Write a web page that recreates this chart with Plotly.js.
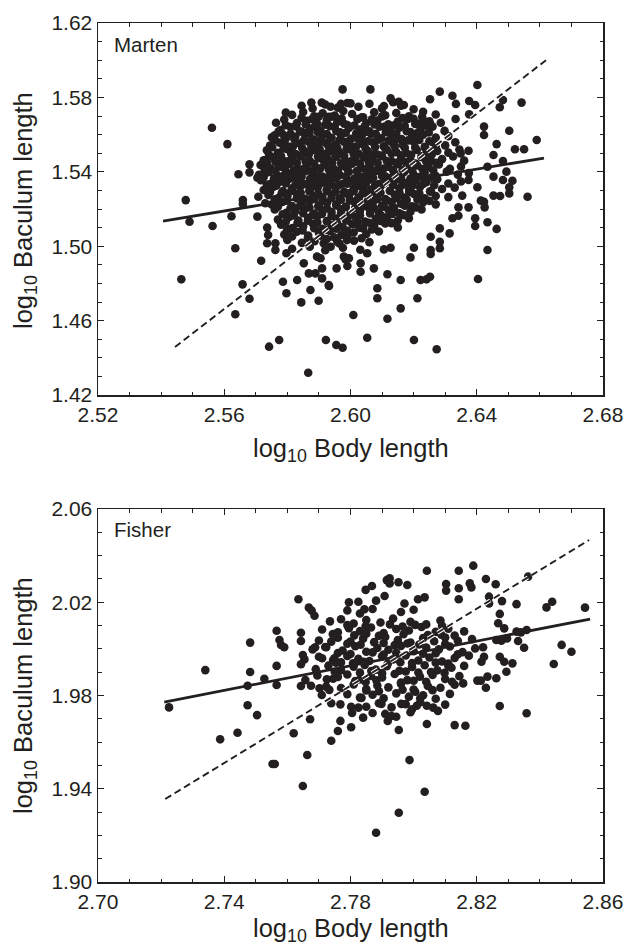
<!DOCTYPE html>
<html>
<head>
<meta charset="utf-8">
<script src="https://cdn.plot.ly/plotly-3.0.1.min.js"></script>
<style>html,body{margin:0;padding:0;background:#fff;}#chart{width:625px;height:947px;}</style>
</head>
<body>
<div id="chart"></div>
<script>
// ---------- Marten (top panel) ----------
const martenOutX = [2.5561,2.5610,2.5478,2.5490,2.5563,2.5623,2.5464,2.5635,2.5635,2.5658,2.5680,2.5717,2.5645,2.5680,2.5680,2.5705,2.5659,2.5659,2.5705,2.5742,2.5774,2.5866,2.5922,2.5955,2.5975,2.6009,2.5795,2.5764,2.5876,2.5909,2.5975,2.5786,2.5797,2.5844,2.5899,2.5831,2.5873,2.5932,2.5910,2.5956,2.5905,
2.5736,2.5736,2.5762,2.5762,2.5799,2.5799,2.5797,2.5739,2.5708,2.5730,2.5730,2.5762,2.5772,2.5751,2.5772,2.5788,2.5862,2.5889,2.5937,2.5970,2.6000,2.5899,2.5931,
2.5852,2.5868,2.5889,2.5910,2.5931,2.5894,2.5915,2.5937,2.5958,2.5989,2.5979,2.5995,2.6032,
2.6402,2.6283,2.6063,2.6323,2.6252,2.6334,2.6376,2.6395,2.6483,2.6542,2.6473,2.6376,2.6333,2.6286,2.6252,2.6503,2.6590,2.6423,2.6423,2.6463,2.6521,2.6550,2.6453,2.6483,2.6434,2.6374,2.6349,2.6453,2.6494,2.6483,2.6513,2.6503,2.6503,2.6561,2.6474,2.6453,2.6423,2.6413,2.6425,2.6402,2.6374,2.6354,2.6374,2.6342,2.6342,2.6395,2.6395,2.6434,2.6463,2.6434,2.6404,2.6323,2.6314,2.6283,2.6283,2.6283,2.6254,2.6254,2.6254,2.6190,2.6201,2.6212,2.6222,2.6241,2.6252,2.6159,2.6159,2.6201,2.6273,2.6117,2.6053,2.6085,2.6085,2.6117,2.6106,2.6127,2.6074,2.6032,2.6053,2.5990,2.5984,
2.6106,2.6127,2.6153,2.6169,2.6227,2.6238];
const martenOutY = [1.5637,1.5549,1.5248,1.5132,1.5109,1.5161,1.4822,1.4989,1.4634,1.4795,1.4718,1.4922,1.5387,1.5440,1.5397,1.5368,1.5248,1.5227,1.5159,1.4460,1.4496,1.4320,1.4496,1.4469,1.4454,1.4630,1.5718,1.5664,1.5772,1.5772,1.5843,1.4809,1.4747,1.4698,1.4707,1.4818,1.4765,1.4786,1.4881,1.4881,1.4935,
1.5100,1.5016,1.5016,1.4980,1.5087,1.5042,1.4962,1.5060,1.5266,1.5231,1.5463,1.5454,1.5436,1.5585,1.5616,1.5598,1.5610,1.5571,1.5750,1.5765,1.5768,1.5696,1.5696,
1.4908,1.4854,1.4854,1.4827,1.4791,1.4944,1.5016,1.4997,1.5024,1.5033,1.4944,1.4935,1.4908,
1.5867,1.5831,1.5843,1.5809,1.5790,1.5765,1.5781,1.5759,1.5786,1.5772,1.5747,1.5709,1.5684,1.5664,1.5657,1.5621,1.5571,1.5643,1.5598,1.5549,1.5521,1.5521,1.5490,1.5458,1.5427,1.5513,1.5499,1.5374,1.5401,1.5356,1.5352,1.5317,1.5284,1.5266,1.5270,1.5272,1.5239,1.5245,1.5209,1.5317,1.5356,1.5272,1.5209,1.5209,1.5164,1.5150,1.5109,1.5129,1.5093,1.4980,1.4824,1.5150,1.5069,1.5096,1.5024,1.4989,1.5051,1.4980,1.4958,1.4940,1.4992,1.4720,1.4818,1.4822,1.4836,1.4818,1.4666,1.4496,1.4446,1.4610,1.4508,1.4774,1.4720,1.4849,1.4983,1.4992,1.4881,1.4863,1.4962,1.4894,1.4930,
1.5754,1.5795,1.5777,1.5759,1.5696,1.5669];

const martenCoreX = [
2.5845,2.5880,2.5920,2.5960,2.5990,2.6025,2.6060,2.6100,2.6135,2.6160,2.6200,
2.5815,2.5850,2.5885,2.5912,2.5950,2.5977,2.6005,2.6040,2.6075,2.6110,2.6145,2.6185,2.6230,2.6270,
2.5790,2.5830,2.5862,2.5895,2.5925,2.5958,2.5990,2.6022,2.6050,2.6085,2.6120,2.6150,2.6182,2.6215,2.6250,
2.5778,2.5810,2.5845,2.5872,2.5905,2.5935,2.5967,2.5995,2.6030,2.6060,2.6092,2.6125,2.6155,2.6190,2.6222,2.6260,2.6298,
2.5760,2.5795,2.5825,2.5855,2.5882,2.5910,2.5940,2.5970,2.6002,2.6035,2.6065,2.6097,2.6130,2.6162,2.6195,2.6230,2.6270,2.6310,
2.5745,2.5775,2.5805,2.5840,2.5866,2.5895,2.5922,2.5950,2.5980,2.6010,2.6040,2.6072,2.6105,2.6135,2.6165,2.6200,2.6235,2.6265,2.6300,2.6332,
2.5735,2.5770,2.5800,2.5826,2.5855,2.5885,2.5912,2.5940,2.5966,2.5995,2.6025,2.6055,2.6085,2.6115,2.6145,2.6177,2.6210,2.6242,2.6275,2.6310,2.6345,
2.5725,2.5756,2.5790,2.5815,2.5845,2.5871,2.5900,2.5930,2.5956,2.5985,2.6015,2.6045,2.6071,2.6100,2.6130,2.6160,2.6190,2.6225,2.6256,2.6290,2.6325,2.6360,
2.5715,2.5746,2.5780,2.5806,2.5835,2.5861,2.5890,2.5920,2.5946,2.5975,2.6005,2.6035,2.6061,2.6090,2.6120,2.6150,2.6181,2.6212,2.6245,2.6280,2.6315,2.6350,
2.5710,2.5740,2.5770,2.5800,2.5830,2.5856,2.5885,2.5911,2.5940,2.5966,2.5995,2.6025,2.6055,2.6081,2.6110,2.6140,2.6170,2.6201,2.6235,2.6270,2.6305,2.6340,2.6375,
2.5716,2.5750,2.5776,2.5805,2.5835,2.5861,2.5890,2.5916,2.5945,2.5975,2.6001,2.6030,2.6060,2.6090,2.6116,2.6145,2.6175,2.6206,2.6240,2.6275,2.6310,2.6350,
2.5725,2.5755,2.5786,2.5815,2.5841,2.5870,2.5896,2.5925,2.5951,2.5980,2.6010,2.6040,2.6066,2.6095,2.6125,2.6155,2.6186,2.6220,2.6255,2.6290,2.6330,
2.5740,2.5771,2.5800,2.5830,2.5856,2.5885,2.5911,2.5940,2.5966,2.5995,2.6025,2.6051,2.6080,2.6110,2.6140,2.6170,2.6201,2.6235,2.6270,2.6310,
2.5750,2.5785,2.5815,2.5845,2.5871,2.5900,2.5926,2.5955,2.5985,2.6011,2.6040,2.6070,2.6100,2.6130,2.6160,2.6195,2.6230,2.6270,
2.5760,2.5796,2.5825,2.5856,2.5885,2.5911,2.5940,2.5970,2.6000,2.6030,2.6060,2.6090,2.6121,2.6155,2.6190,2.6225,
2.5770,2.5806,2.5835,2.5866,2.5895,2.5926,2.5955,2.5986,2.6015,2.6046,2.6080,2.6115,2.6150,2.6185,
2.5780,2.5816,2.5850,2.5881,2.5910,2.5941,2.5975,2.6006,2.6040,2.6075,2.6110,2.6150,
2.5790,2.5830,2.5866,2.5900,2.5935,2.5971,2.6010,2.6050,2.6090,
2.5800,2.5846,2.5886,2.5925,2.5965,2.6011,2.6060,
2.5815,2.5871,2.5920,2.5976,2.6031];
const martenCoreY = [
1.5755,1.5740,1.5762,1.5745,1.5770,1.5750,1.5766,1.5741,1.5774,1.5756,1.5736,
1.5706,1.5722,1.5698,1.5715,1.5702,1.5727,1.5711,1.5693,1.5720,1.5704,1.5716,1.5699,1.5723,1.5708,
1.5681,1.5662,1.5674,1.5657,1.5679,1.5668,1.5652,1.5683,1.5661,1.5676,1.5655,1.5670,1.5684,1.5659,1.5672,
1.5624,1.5641,1.5617,1.5633,1.5622,1.5645,1.5613,1.5636,1.5627,1.5618,1.5642,1.5625,1.5637,1.5614,1.5631,1.5643,1.5620,
1.5596,1.5579,1.5588,1.5602,1.5574,1.5593,1.5583,1.5598,1.5577,1.5591,1.5604,1.5581,1.5595,1.5576,1.5589,1.5600,1.5584,1.5592,
1.5541,1.5557,1.5536,1.5552,1.5563,1.5539,1.5555,1.5544,1.5561,1.5533,1.5549,1.5558,1.5537,1.5553,1.5546,1.5562,1.5534,1.5551,1.5542,1.5559,
1.5516,1.5502,1.5521,1.5495,1.5509,1.5518,1.5497,1.5513,1.5504,1.5522,1.5498,1.5511,1.5493,1.5519,1.5506,1.5500,1.5517,1.5496,1.5512,1.5503,1.5520,
1.5462,1.5478,1.5457,1.5471,1.5483,1.5459,1.5474,1.5466,1.5481,1.5455,1.5469,1.5477,1.5461,1.5484,1.5458,1.5472,1.5463,1.5479,1.5456,1.5468,1.5482,1.5460,
1.5437,1.5419,1.5428,1.5442,1.5414,1.5433,1.5422,1.5440,1.5417,1.5431,1.5444,1.5420,1.5436,1.5413,1.5427,1.5441,1.5418,1.5434,1.5425,1.5439,1.5416,1.5429,
1.5384,1.5398,1.5377,1.5392,1.5381,1.5403,1.5386,1.5374,1.5396,1.5383,1.5400,1.5379,1.5391,1.5404,1.5376,1.5388,1.5399,1.5382,1.5394,1.5378,1.5401,1.5385,1.5393,
1.5355,1.5338,1.5347,1.5361,1.5342,1.5333,1.5357,1.5345,1.5363,1.5336,1.5351,1.5340,1.5358,1.5334,1.5349,1.5362,1.5339,1.5353,1.5344,1.5360,1.5337,1.5348,
1.5302,1.5318,1.5296,1.5311,1.5323,1.5299,1.5314,1.5305,1.5320,1.5293,1.5309,1.5317,1.5301,1.5322,1.5297,1.5312,1.5306,1.5319,1.5294,1.5308,1.5315,
1.5276,1.5259,1.5268,1.5282,1.5255,1.5271,1.5263,1.5279,1.5257,1.5273,1.5261,1.5284,1.5266,1.5253,1.5277,1.5262,1.5281,1.5258,1.5270,1.5264,
1.5224,1.5238,1.5216,1.5231,1.5243,1.5219,1.5235,1.5226,1.5213,1.5240,1.5222,1.5233,1.5217,1.5237,1.5228,1.5214,1.5236,1.5225,
1.5197,1.5179,1.5188,1.5203,1.5176,1.5193,1.5184,1.5199,1.5173,1.5190,1.5201,1.5181,1.5195,1.5177,1.5186,1.5198,
1.5143,1.5157,1.5138,1.5152,1.5161,1.5135,1.5149,1.5140,1.5158,1.5133,1.5147,1.5155,1.5139,1.5151,
1.5116,1.5098,1.5107,1.5121,1.5094,1.5112,1.5103,1.5118,1.5096,1.5109,1.5122,1.5101,
1.5063,1.5078,1.5057,1.5071,1.5082,1.5060,1.5074,1.5066,1.5079,
1.5034,1.5018,1.5027,1.5039,1.5015,1.5030,1.5022,
1.4986,1.4997,1.4978,1.4992,1.4981];

// denser centre of the marten cloud (points between the rows above)
const martenFillX = [
2.5845,2.5878,2.5940,2.5972,2.6036,2.6068,2.6100,2.6165,2.6200,
2.5795,2.5828,2.5858,2.5888,2.5920,2.5950,2.5980,2.6012,2.6045,2.6076,2.6108,2.6140,2.6172,2.6205,2.6240,
2.5778,2.5810,2.5840,2.5870,2.5896,2.5925,2.5955,2.5985,2.6018,2.6050,2.6080,2.6112,2.6145,2.6178,2.6212,2.6248,
2.5760,2.5790,2.5822,2.5852,2.5880,2.5908,2.5936,2.5965,2.5995,2.6025,2.6055,2.6088,2.6120,2.6150,2.6183,2.6218,2.6250,
2.5752,2.5788,2.5818,2.5847,2.5876,2.5902,2.5930,2.5958,2.5988,2.6018,2.6048,2.6078,2.6110,2.6140,2.6172,2.6205,2.6238,2.6270,
2.5742,2.5780,2.5812,2.5840,2.5868,2.5897,2.5925,2.5952,2.5980,2.6010,2.6040,2.6068,2.6098,2.6130,2.6160,2.6192,2.6225,2.6258,
2.5735,2.5770,2.5802,2.5830,2.5858,2.5885,2.5915,2.5942,2.5970,2.6000,2.6030,2.6058,2.6086,2.6115,2.6145,2.6175,2.6206,2.6240,2.6272,
2.5728,2.5762,2.5792,2.5820,2.5848,2.5875,2.5905,2.5932,2.5960,2.5990,2.6020,2.6048,2.6075,2.6105,2.6135,2.6165,2.6196,2.6228,2.6262,
2.5725,2.5758,2.5786,2.5815,2.5845,2.5872,2.5900,2.5928,2.5955,2.5985,2.6012,2.6042,2.6072,2.6100,2.6130,2.6160,2.6190,2.6222,2.6255,
2.5735,2.5765,2.5795,2.5825,2.5852,2.5880,2.5906,2.5935,2.5962,2.5990,2.6018,2.6048,2.6078,2.6106,2.6135,2.6165,2.6196,2.6230,2.6265,
2.5745,2.5782,2.5812,2.5842,2.5870,2.5898,2.5925,2.5952,2.5980,2.6010,2.6038,2.6066,2.6095,2.6125,2.6155,2.6186,2.6218,2.6252,
2.5760,2.5798,2.5830,2.5858,2.5886,2.5912,2.5940,2.5970,2.5998,2.6026,2.6055,2.6085,2.6115,2.6145,2.6178,2.6212,2.6250,
2.5770,2.5810,2.5840,2.5870,2.5898,2.5926,2.5955,2.5985,2.6015,2.6045,2.6075,2.6106,2.6138,2.6172,2.6208,
2.5785,2.5820,2.5850,2.5880,2.5910,2.5940,2.5970,2.6000,2.6030,2.6062,2.6098,2.6132,2.6168,
2.5795,2.5832,2.5865,2.5895,2.5925,2.5958,2.5990,2.6022,2.6058,2.6095,2.6130,
2.5805,2.5848,2.5885,2.5920,2.5955,2.5990,2.6028,2.6068,
2.5815,2.5865,2.5905,2.5948,2.5990,2.6035];
const martenFillY = [
1.5690,1.5684,1.5696,1.5687,1.5693,1.5682,1.5698,1.5689,1.5685,
1.5650,1.5644,1.5656,1.5647,1.5653,1.5641,1.5658,1.5649,1.5645,1.5655,1.5643,1.5652,1.5646,1.5657,1.5648,
1.5612,1.5605,1.5617,1.5608,1.5614,1.5603,1.5619,1.5610,1.5606,1.5616,1.5604,1.5613,1.5607,1.5618,1.5609,1.5611,
1.5572,1.5565,1.5577,1.5568,1.5574,1.5563,1.5579,1.5570,1.5566,1.5576,1.5564,1.5573,1.5567,1.5578,1.5569,1.5571,1.5564,
1.5532,1.5525,1.5537,1.5528,1.5534,1.5523,1.5539,1.5530,1.5526,1.5536,1.5524,1.5533,1.5527,1.5538,1.5529,1.5531,1.5524,1.5535,
1.5492,1.5485,1.5497,1.5488,1.5494,1.5483,1.5499,1.5490,1.5486,1.5496,1.5484,1.5493,1.5487,1.5498,1.5489,1.5491,1.5484,1.5495,
1.5452,1.5445,1.5457,1.5448,1.5454,1.5443,1.5459,1.5450,1.5446,1.5456,1.5444,1.5453,1.5447,1.5458,1.5449,1.5451,1.5444,1.5455,1.5448,
1.5412,1.5405,1.5417,1.5408,1.5414,1.5403,1.5419,1.5410,1.5406,1.5416,1.5404,1.5413,1.5407,1.5418,1.5409,1.5411,1.5404,1.5415,1.5408,
1.5372,1.5365,1.5377,1.5368,1.5374,1.5363,1.5379,1.5370,1.5366,1.5376,1.5364,1.5373,1.5367,1.5378,1.5369,1.5371,1.5364,1.5375,1.5368,
1.5332,1.5325,1.5337,1.5328,1.5334,1.5323,1.5339,1.5330,1.5326,1.5336,1.5324,1.5333,1.5327,1.5338,1.5329,1.5331,1.5324,1.5335,1.5328,
1.5292,1.5285,1.5297,1.5288,1.5294,1.5283,1.5299,1.5290,1.5286,1.5296,1.5284,1.5293,1.5287,1.5298,1.5289,1.5291,1.5284,1.5295,
1.5252,1.5245,1.5257,1.5248,1.5254,1.5243,1.5259,1.5250,1.5246,1.5256,1.5244,1.5253,1.5247,1.5258,1.5249,1.5251,1.5244,
1.5212,1.5205,1.5217,1.5208,1.5214,1.5203,1.5219,1.5210,1.5206,1.5216,1.5204,1.5213,1.5207,1.5218,1.5209,
1.5172,1.5165,1.5177,1.5168,1.5174,1.5163,1.5179,1.5170,1.5166,1.5176,1.5164,1.5173,1.5167,
1.5132,1.5125,1.5137,1.5128,1.5134,1.5123,1.5139,1.5130,1.5126,1.5136,1.5124,
1.5092,1.5085,1.5097,1.5088,1.5094,1.5083,1.5099,1.5090,
1.5052,1.5045,1.5057,1.5048,1.5054,1.5043];

const martenSolidX = [2.5406, 2.6613];
const martenSolidY = [1.5135, 1.5474];
const martenDashX = [2.5444, 2.6620];
const martenDashY = [1.4458, 1.6001];

// ---------- Fisher (bottom panel) ----------
const fisherOutX = [2.7225,2.7340,2.7387,2.7442,2.7482,2.7482,2.7474,2.7474,2.7504,2.7527,2.7566,2.7575,2.7580,2.7590,2.7566,2.7566,2.7553,2.7560,2.7620,2.7649,2.7663,2.7672,2.7635,2.7668,2.7677,2.7686,2.7643,2.7643,2.7649,2.7654,2.7643,2.7643,2.7657,2.7675,2.7680,2.7688,2.7710,2.7723,2.7739,2.7744,2.7749,2.7754,2.7709,2.7702,2.7723,2.7733,2.7739,2.7768,2.7802,2.7825,2.7768,2.7760,2.7739,2.7802,2.7795,2.7825,2.7848,2.7868,2.7844,2.7881,2.7908,2.7915,2.7881,
2.8042,2.8143,2.8189,2.8229,2.8260,2.8178,2.8183,2.8143,2.8103,2.8103,2.7924,2.7924,2.7952,2.7980,2.7971,2.8014,2.8035,2.8143,2.8239,2.8239,2.8280,2.8326,2.8363,2.8421,2.8439,2.8543,2.8273,2.8268,2.8287,2.8326,2.8340,2.8358,2.8469,2.8500,2.8444,2.8350,2.8331,2.8296,2.8278,2.8262,2.8273,2.8287,2.8313,2.8294,2.8262,2.8234,2.8229,2.8202,2.8213,2.8220,2.8223,2.8215,2.8157,2.8122,2.8110,2.8273,2.8358,2.8130,2.8164,2.8042,2.8077,2.8062,2.8042,2.8021,2.8021,2.7995,2.7961,2.7945,2.7918,2.7910,2.7953,2.7898,2.7987,2.8035,2.7953,
2.7805,2.7840,2.7835,2.7760,2.7725];
const fisherOutY = [1.9749,1.9909,1.9612,1.9640,2.0027,1.9901,1.9842,1.9758,1.9716,1.9872,2.0078,2.0038,2.0017,2.0007,1.9927,1.9845,1.9506,1.9506,1.9638,1.9412,1.9545,1.9698,2.0213,2.0177,2.0164,2.0142,2.0069,2.0034,1.9974,1.9955,1.9934,1.9841,1.9866,1.9842,1.9998,2.0007,1.9960,2.0007,2.0031,2.0064,1.9960,1.9941,1.9802,1.9831,1.9838,1.9824,1.9767,1.9762,1.9752,1.9748,1.9691,1.9648,1.9606,1.9664,2.0200,2.0202,2.0253,2.0270,2.0170,2.0207,2.0227,2.0295,1.9211,
2.0335,2.0335,2.0357,2.0300,2.0277,2.0281,2.0264,2.0260,2.0278,2.0250,2.0303,2.0281,2.0286,2.0274,2.0195,2.0213,2.0221,2.0213,2.0224,2.0195,2.0205,2.0192,2.0310,2.0178,2.0202,2.0177,2.0150,2.0110,2.0088,2.0074,2.0071,2.0081,2.0017,1.9988,1.9935,2.0005,2.0034,2.0045,2.0035,2.0038,1.9966,1.9945,1.9938,1.9902,1.9874,1.9881,1.9833,1.9864,1.9864,2.0007,1.9966,1.9945,1.9852,1.9859,1.9927,1.9755,1.9724,1.9673,1.9670,1.9678,1.9734,1.9748,1.9756,1.9788,1.9771,1.9741,1.9764,1.9709,1.9691,1.9721,1.9652,1.9764,1.9523,1.9387,1.9297,
1.9725,1.9705,1.9790,1.9880,1.9870];

const fisherCoreX = [
2.7790,2.7830,2.7870,2.7960,2.8000,
2.7735,2.7770,2.7810,2.7850,2.7895,2.7935,2.7990,2.8040,2.8085,
2.7710,2.7760,2.7795,2.7830,2.7865,2.7905,2.7945,2.7985,2.8025,2.8070,2.8110,2.8160,
2.7700,2.7760,2.7800,2.7840,2.7875,2.7910,2.7950,2.7990,2.8030,2.8065,2.8100,2.8140,2.8185,
2.7720,2.7775,2.7815,2.7850,2.7885,2.7920,2.7960,2.8000,2.8040,2.8080,2.8115,2.8155,2.8195,
2.7700,2.7745,2.7790,2.7825,2.7860,2.7900,2.7935,2.7975,2.8015,2.8050,2.8090,2.8130,2.8175,
2.7690,2.7730,2.7770,2.7810,2.7845,2.7880,2.7915,2.7955,2.7995,2.8035,2.8075,2.8120,2.8160,
2.7695,2.7745,2.7790,2.7830,2.7865,2.7900,2.7940,2.7980,2.8020,2.8060,2.8100,2.8145,
2.7770,2.7810,2.7850,2.7885,2.7920,2.7960,2.8000,2.8045,2.8085,2.8130,
2.7790,2.7830,2.7870,2.7905,2.7945,2.7985,2.8030,2.8070,2.8115,
2.7850,2.7890,2.7930,2.7975,2.8010,2.8100,
2.7870,2.7930,2.7990,
2.7790,2.7848,2.7925,2.7965,2.8005,2.8090,
2.7745,2.7812,2.7850,2.7890,2.7968,2.8045,2.8088,2.8130,
2.7790,2.7832,2.7905,2.7940,2.7980,2.8018,2.8100,
2.7760,2.7800,2.7870,2.7905,2.7945,2.8030,2.8070,2.8140,
2.7770,2.7808,2.7842,2.7918,2.7958,2.7995,2.8070,2.8110,
2.7750,2.7830,2.7866,2.7900,2.7975,2.8015,2.8055,2.8098,
2.7815,2.7848,2.7882,2.7960,2.8000,2.8040,
2.7850,2.7890,2.7965,2.8005,2.8060];
const fisherCoreY = [
2.0165,2.0152,2.0171,2.0158,2.0168,
2.0118,2.0127,2.0109,2.0124,2.0113,2.0130,2.0116,2.0105,2.0122,
2.0083,2.0071,2.0089,2.0076,2.0092,2.0068,2.0085,2.0079,2.0094,2.0073,2.0087,2.0075,
2.0036,2.0048,2.0031,2.0044,2.0029,2.0051,2.0038,2.0027,2.0046,2.0033,2.0049,2.0035,2.0042,
2.0008,1.9993,2.0011,1.9988,2.0004,1.9996,2.0013,1.9990,2.0006,1.9998,2.0010,1.9986,2.0002,
1.9966,1.9952,1.9970,1.9957,1.9948,1.9968,1.9955,1.9972,1.9950,1.9963,1.9946,1.9961,1.9971,
1.9913,1.9928,1.9909,1.9924,1.9931,1.9911,1.9926,1.9906,1.9922,1.9930,1.9908,1.9919,1.9927,
1.9886,1.9872,1.9890,1.9869,1.9884,1.9877,1.9892,1.9866,1.9881,1.9888,1.9871,1.9883,
1.9832,1.9847,1.9828,1.9843,1.9835,1.9850,1.9826,1.9841,1.9833,1.9846,
1.9806,1.9791,1.9803,1.9788,1.9809,1.9795,1.9801,1.9786,1.9807,
1.9752,1.9767,1.9749,1.9763,1.9756,1.9761,
1.9725,1.9712,1.9728,
2.0102,2.0098,2.0105,2.0096,2.0103,2.0099,
2.0062,2.0058,2.0065,2.0056,2.0063,2.0059,2.0061,2.0057,
2.0022,2.0018,2.0025,2.0016,2.0023,2.0019,2.0021,
1.9982,1.9978,1.9985,1.9976,1.9983,1.9979,1.9981,1.9977,
1.9942,1.9938,1.9945,1.9936,1.9943,1.9939,1.9941,1.9937,
1.9902,1.9898,1.9905,1.9896,1.9903,1.9899,1.9901,1.9897,
1.9862,1.9858,1.9865,1.9856,1.9863,1.9859,
1.9822,1.9818,1.9825,1.9816,1.9823];

const fisherSolidX = [2.7210, 2.8559];
const fisherSolidY = [1.9772, 2.0128];
const fisherDashX = [2.7213, 2.8556];
const fisherDashY = [1.9356, 2.0467];

const xTitle = 'log<sub>10</sub> Body length';
const yTitle = 'log<sub>10</sub> Baculum length';
const panelLabels = ['Marten', 'Fisher'];

// ---------- styling ----------
const INK = '#231f20';
const FONT = 'Liberation Sans, Arial, sans-serif';
const marker = {color: INK, size: 8.6, line: {width: 0}};
const DASH = '7px,4px';

function panelTraces(px, py, sx, sy, dx, dy, xa, ya) {
  return [
    {type: 'scatter', mode: 'markers', x: px, y: py, xaxis: xa, yaxis: ya, marker: marker, hoverinfo: 'skip'},
    {type: 'scatter', mode: 'lines', x: sx, y: sy, xaxis: xa, yaxis: ya, line: {color: INK, width: 2.8}},
    {type: 'scatter', mode: 'lines', x: dx, y: dy, xaxis: xa, yaxis: ya, line: {color: '#ffffff', width: 4, dash: DASH}},
    {type: 'scatter', mode: 'lines', x: dx, y: dy, xaxis: xa, yaxis: ya, line: {color: INK, width: 1.9, dash: DASH}}
  ];
}

const traces = [].concat(
  panelTraces(martenCoreX.concat(martenFillX, martenOutX), martenCoreY.concat(martenFillY, martenOutY),
              martenSolidX, martenSolidY, martenDashX, martenDashY, 'x', 'y'),
  panelTraces(fisherCoreX.concat(fisherOutX), fisherCoreY.concat(fisherOutY),
              fisherSolidX, fisherSolidY, fisherDashX, fisherDashY, 'x2', 'y2')
);

function axis(range, anchor, domain) {
  return {
    range: range, anchor: anchor, domain: domain, tick0: range[0], dtick: 0.04, tickformat: '.2f',
    ticks: 'inside', ticklen: 6, tickwidth: 1.2, tickcolor: INK,
    showline: true, linecolor: INK, linewidth: 1.5, mirror: 'ticks',
    showgrid: false, zeroline: false,
    minor: {dtick: 0.01, ticks: 'inside', ticklen: 3.5, tickwidth: 1, tickcolor: INK, showgrid: false},
    tickfont: {family: FONT, size: 21, color: INK}, fixedrange: true
  };
}

const topDomain = [0.5669, 1];
const botDomain = [0, 0.4342];

const layout = {
  width: 625, height: 947,
  margin: {l: 98, r: 22, t: 23, b: 65},
  paper_bgcolor: '#ffffff', plot_bgcolor: '#ffffff',
  showlegend: false,
  font: {family: FONT, color: INK},
  xaxis: axis([2.52, 2.68], 'y', [0, 1]),
  yaxis: axis([1.42, 1.62], 'x', topDomain),
  xaxis2: axis([2.70, 2.86], 'y2', [0, 1]),
  yaxis2: axis([1.90, 2.06], 'x2', botDomain),
  annotations: [
    {text: panelLabels[0], xref: 'paper', yref: 'paper', x: 0.028, y: 0.9744, xanchor: 'left', yanchor: 'middle',
     showarrow: false, font: {family: FONT, size: 20.5, color: INK}},
    {text: panelLabels[1], xref: 'paper', yref: 'paper', x: 0.028, y: 0.4098, xanchor: 'left', yanchor: 'middle',
     showarrow: false, font: {family: FONT, size: 20.5, color: INK}},
    {text: xTitle, xref: 'paper', yref: 'paper', x: 0.5, y: 0.5029, xanchor: 'center', yanchor: 'middle',
     showarrow: false, font: {family: FONT, size: 25.5, color: INK}},
    {text: xTitle, xref: 'paper', yref: 'paper', x: 0.5, y: -0.0559, xanchor: 'center', yanchor: 'middle',
     showarrow: false, font: {family: FONT, size: 25.5, color: INK}},
    {text: yTitle, xref: 'paper', yref: 'paper', x: -0.1446, y: 0.7823, xanchor: 'center', yanchor: 'middle',
     textangle: -90, showarrow: false, font: {family: FONT, size: 25.5, color: INK}},
    {text: yTitle, xref: 'paper', yref: 'paper', x: -0.1446, y: 0.2177, xanchor: 'center', yanchor: 'middle',
     textangle: -90, showarrow: false, font: {family: FONT, size: 25.5, color: INK}}
  ]
};

Plotly.newPlot('chart', traces, layout, {staticPlot: true, displayModeBar: false});
</script>
</body>
</html>
